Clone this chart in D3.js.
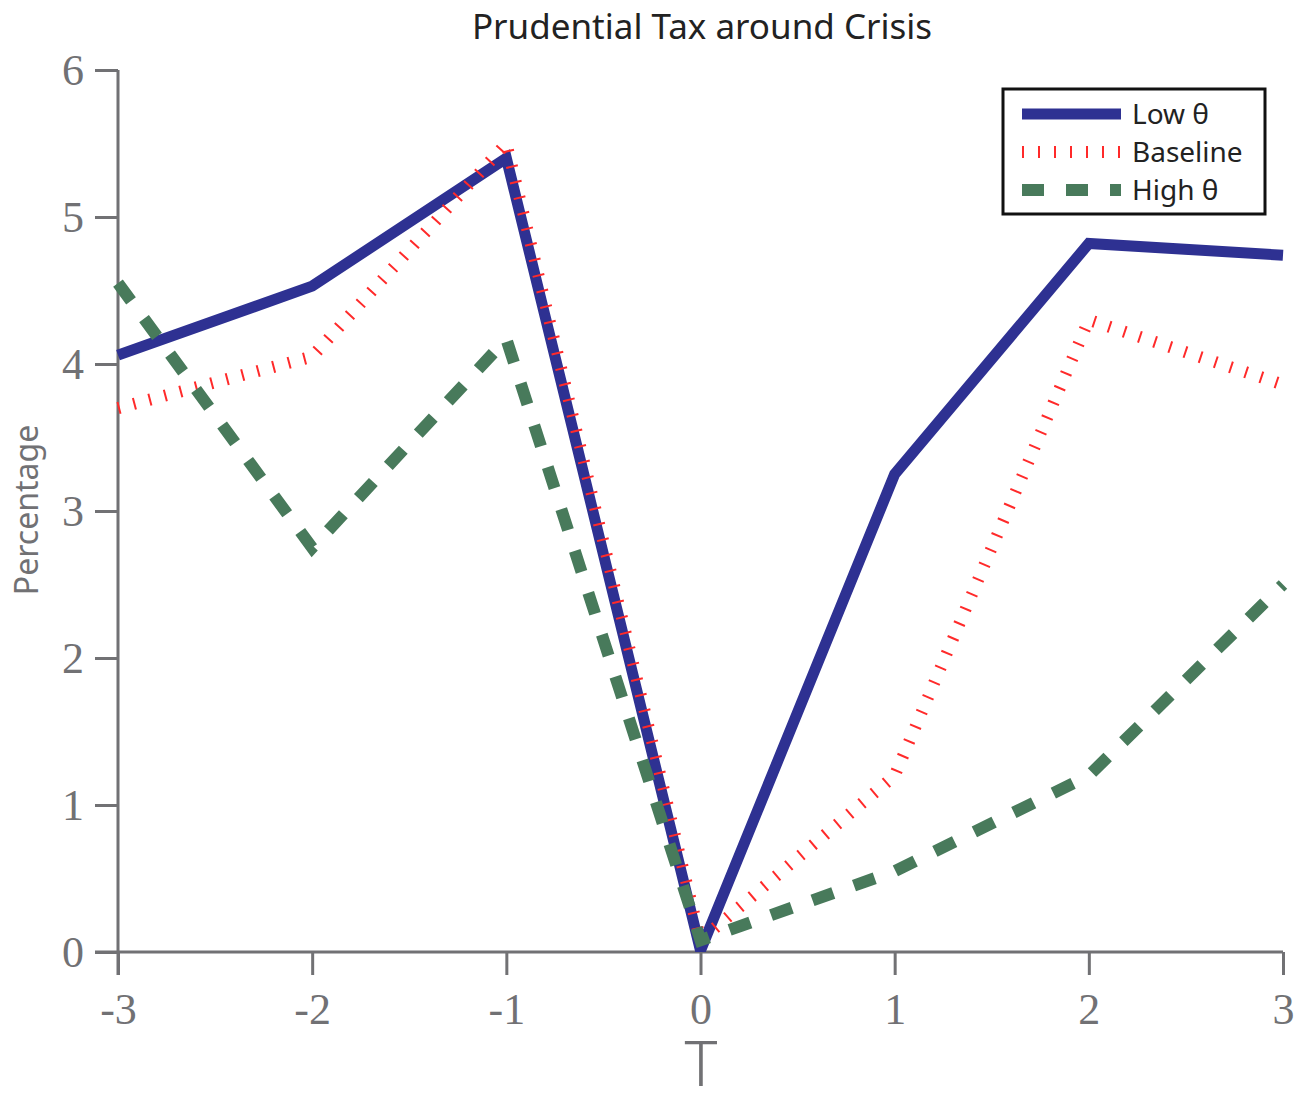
<!DOCTYPE html>
<html>
<head>
<meta charset="utf-8">
<script src="https://cdn.jsdelivr.net/npm/d3@7"></script>
<style>
  body { margin: 0; background: #fff; }
</style>
</head>
<body>
<svg width="1307" height="1099"></svg>
<script>
var svg = d3.select('svg');

// chart data
var periods = [-3, -2, -1, 0, 1, 2, 3];
var lowTheta = [4.06, 4.53, 5.40, 0.01, 3.25, 4.82, 4.74];
var baseline = [3.70, 4.05, 5.50, 0.08, 1.20, 4.30, 3.86];
var highTheta = [4.55, 2.75, 4.17, 0.08, 0.55, 1.20, 2.50];
var yTicks = [0, 1, 2, 3, 4, 5, 6];
var seriesNames = ['Low \u03b8', 'Baseline', 'High \u03b8'];

var axisColor = '#717174';
var x = d3.scaleLinear().domain([-3, 3]).range([118, 1283]);
var y = d3.scaleLinear().domain([0, 6]).range([952, 70]);

var styles = [
    {color: '#2e3192', width: 11, dash: null},
    {color: '#ff2a2a', width: 12, dash: '2,14'},
    {color: '#487a5b', width: 12, dash: '22,22'}
];
var series = [lowTheta, baseline, highTheta];

// clip lines at the x axis (the V at zero is flattened there)
svg.append('defs').append('clipPath').attr('id', 'plotClip')
    .append('rect')
    .attr('x', 0).attr('y', 0)
    .attr('width', 1307).attr('height', 952);

// axes
var xAxis = svg.append('g')
    .attr('transform', 'translate(0,952)')
    .call(d3.axisBottom(x).tickValues(periods).tickSize(23).tickSizeOuter(0)
        .tickFormat(function(d) { return d < 0 ? '-' + Math.abs(d) : d; }));
var yAxis = svg.append('g')
    .attr('transform', 'translate(118,0)')
    .call(d3.axisLeft(y).tickValues(yTicks).tickSize(23).tickSizeOuter(0)
        .tickFormat(d3.format('d')));

[xAxis, yAxis].forEach(function(a) {
    a.select('.domain').attr('stroke', axisColor).attr('stroke-width', 3);
    a.selectAll('.tick line').attr('stroke', axisColor).attr('stroke-width', 3);
    a.selectAll('.tick text')
        .attr('fill', axisColor)
        .style('font-family', 'Liberation Serif, serif')
        .style('font-size', '44px');
});
xAxis.selectAll('.tick text').attr('dy', '1.05em');
yAxis.selectAll('.tick text').attr('x', -34).attr('dy', '0.34em');
// axis lines run over the outer ticks
xAxis.select('.domain').attr('d', 'M95,0H' + x(3));
yAxis.select('.domain').attr('d', 'M0,' + y(6) + 'V975');

// lines
var line = d3.line()
    .x(function(d, i) { return x(periods[i]); })
    .y(function(d) { return y(d); });

var linesG = svg.append('g').attr('clip-path', 'url(#plotClip)');
series.forEach(function(s, i) {
    linesG.append('path')
        .datum(s)
        .attr('d', line)
        .attr('fill', 'none')
        .attr('stroke', styles[i].color)
        .attr('stroke-width', styles[i].width)
        .attr('stroke-dasharray', styles[i].dash)
        .attr('stroke-linejoin', 'miter')
        .attr('stroke-miterlimit', 10);
});

// title and labels
svg.append('text')
    .attr('x', 702).attr('y', 39)
    .attr('text-anchor', 'middle')
    .style('font-family', 'Noto Sans, sans-serif')
    .style('font-size', '35px')
    .attr('fill', '#222')
    .text('Prudential Tax around Crisis');

svg.append('text')
    .attr('transform', 'translate(38,510) rotate(-90)')
    .attr('text-anchor', 'middle')
    .style('font-family', 'Noto Sans, sans-serif')
    .style('font-size', '32px')
    .attr('fill', axisColor)
    .text('Percentage');

svg.append('text')
    .attr('x', 701).attr('y', 1086)
    .attr('text-anchor', 'middle')
    .style('font-family', 'Noto Sans, sans-serif')
    .style('font-weight', 300)
    .style('font-size', '62px')
    .attr('fill', axisColor)
    .text('T');

// legend
var legend = svg.append('g');
legend.append('rect')
    .attr('x', 1003).attr('y', 89)
    .attr('width', 262).attr('height', 125)
    .attr('fill', '#fff')
    .attr('stroke', '#111')
    .attr('stroke-width', 3);

var rowY = [114, 152, 190];
seriesNames.forEach(function(name, i) {
    legend.append('line')
        .attr('x1', 1022).attr('x2', 1121)
        .attr('y1', rowY[i]).attr('y2', rowY[i])
        .attr('stroke', styles[i].color)
        .attr('stroke-width', styles[i].width)
        .attr('stroke-dasharray', styles[i].dash);
    legend.append('text')
        .attr('x', 1132).attr('y', rowY[i])
        .attr('dy', '0.36em')
        .style('font-family', 'Noto Sans, sans-serif')
        .style('font-size', '28px')
        .attr('fill', '#222')
        .text(name);
});
</script>
</body>
</html>
